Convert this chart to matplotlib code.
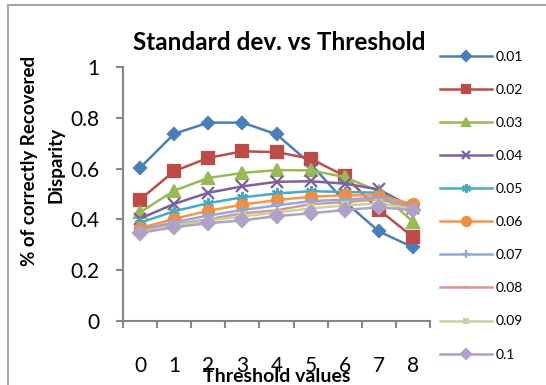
import numpy as np
import matplotlib
matplotlib.use('Agg')
import matplotlib.pyplot as plt
from matplotlib.patches import Rectangle

plt.rcParams['font.family'] = ['Lato', 'DejaVu Sans']

###--- DATA ---###
thresholds = ['0', '1', '2', '3', '4', '5', '6', '7', '8']
std_labels = ['0.01', '0.02', '0.03', '0.04', '0.05',
              '0.06', '0.07', '0.08', '0.09', '0.1']

sd_001 = [0.603, 0.737, 0.781, 0.781, 0.735, 0.619, 0.470, 0.353, 0.290]
sd_002 = [0.478, 0.590, 0.642, 0.668, 0.665, 0.639, 0.571, 0.438, 0.331]
sd_003 = [0.428, 0.513, 0.563, 0.583, 0.594, 0.593, 0.567, 0.510, 0.391]
sd_004 = [0.403, 0.461, 0.505, 0.530, 0.548, 0.550, 0.541, 0.518, 0.446]
sd_005 = [0.387, 0.432, 0.464, 0.487, 0.502, 0.511, 0.508, 0.505, 0.451]
sd_006 = [0.366, 0.402, 0.434, 0.458, 0.476, 0.489, 0.495, 0.494, 0.460]
sd_007 = [0.359, 0.389, 0.415, 0.437, 0.455, 0.472, 0.478, 0.486, 0.448]
sd_008 = [0.354, 0.380, 0.400, 0.424, 0.436, 0.460, 0.468, 0.479, 0.446]
sd_009 = [0.351, 0.376, 0.395, 0.412, 0.427, 0.443, 0.455, 0.463, 0.441]
sd_010 = [0.347, 0.369, 0.385, 0.396, 0.413, 0.424, 0.437, 0.448, 0.436]

all_series = [sd_001, sd_002, sd_003, sd_004, sd_005,
              sd_006, sd_007, sd_008, sd_009, sd_010]

# excel 2007 style colours / markers
line_cols = ['#4A7EBB', '#BE4B48', '#98B954', '#7D60A0', '#46AAC5',
             '#F79646', '#8EA9DB', '#DA9694', '#C3D69B', '#B1A0C7']
mark_cols = ['#4A7EBB', '#BE4B48', '#98B954', '#7D60A0', '#46AAC5',
             '#F68C36', '#8EA9DB', '#DA9694', '#C3D69B', '#B1A0C7']
markers = ['D', 's', '^', 'x', (6, 2, 0), 'o', '+', '_', 's', 'D']
msizes = [6, 8, 8, 8, 8, 8, 8, 5, 4, 7]

fig = plt.figure(figsize=(5.46, 3.85), dpi=100)

# outer chart frame
fig.patches.append(Rectangle((8 / 546, -0.1), 1.2, 1 - 5 / 385 + 0.1,
                             transform=fig.transFigure, fill=False,
                             edgecolor='#A6A6A6', lw=1.5))

ax = fig.add_axes([123 / 546, 1 - 321 / 385, 307 / 546, 254 / 385])

x = np.arange(len(thresholds))
for i in range(len(all_series)):
    ax.plot(x, all_series[i], color=line_cols[i], lw=1.8,
            marker=markers[i], ms=msizes[i], mfc=mark_cols[i],
            mec=mark_cols[i], mew=1.6, label=std_labels[i])

ax.set_xlim(-0.5, len(thresholds) - 0.5)
ax.set_ylim(0, 1)
ax.set_yticks([0, 0.2, 0.4, 0.6, 0.8, 1])
ax.set_yticklabels(['0', '0.2', '0.4', '0.6', '0.8', '1'])

ax.set_xticks(np.arange(-0.5, len(thresholds)), minor=False)
ax.set_xticklabels([])
ax.set_xticks(x, minor=True)
ax.set_xticklabels(thresholds, minor=True)

for s in ['top', 'right']:
    ax.spines[s].set_visible(False)
for s in ['left', 'bottom']:
    ax.spines[s].set_color('#868686')
    ax.spines[s].set_linewidth(1.5)

ax.tick_params(axis='x', which='major', length=5, width=1.5, color='#868686')
ax.tick_params(axis='x', which='minor', length=0, pad=25, labelsize=15)
ax.tick_params(axis='y', length=5, width=1.5, color='#868686', labelsize=15, pad=12)

fig.text(277 / 546, 1 - 376 / 385, 'Threshold values', fontsize=14,
         fontweight='bold', ha='center', va='center')
fig.text(30 / 546, 1 - 161 / 385, '% of correctly Recovered', fontsize=13.5,
         fontweight='bold', ha='center', va='center', rotation=90)
fig.text(56 / 546, 1 - 165 / 385, 'Disparity', fontsize=13.5,
         fontweight='bold', ha='center', va='center', rotation=90)
fig.text(279 / 546, 1 - 42 / 385, 'Standard dev. vs Threshold', fontsize=17.5,
         fontweight='bold', ha='center', va='center')

ax.legend(loc='upper left', bbox_to_anchor=(434 / 546, 1 - 45 / 385),
          bbox_transform=fig.transFigure, frameon=False, fontsize=10,
          handlelength=3.8, labelspacing=1.52, handletextpad=0.25,
          borderaxespad=0, markerscale=0.8)

fig.savefig('out.png', dpi=100)
